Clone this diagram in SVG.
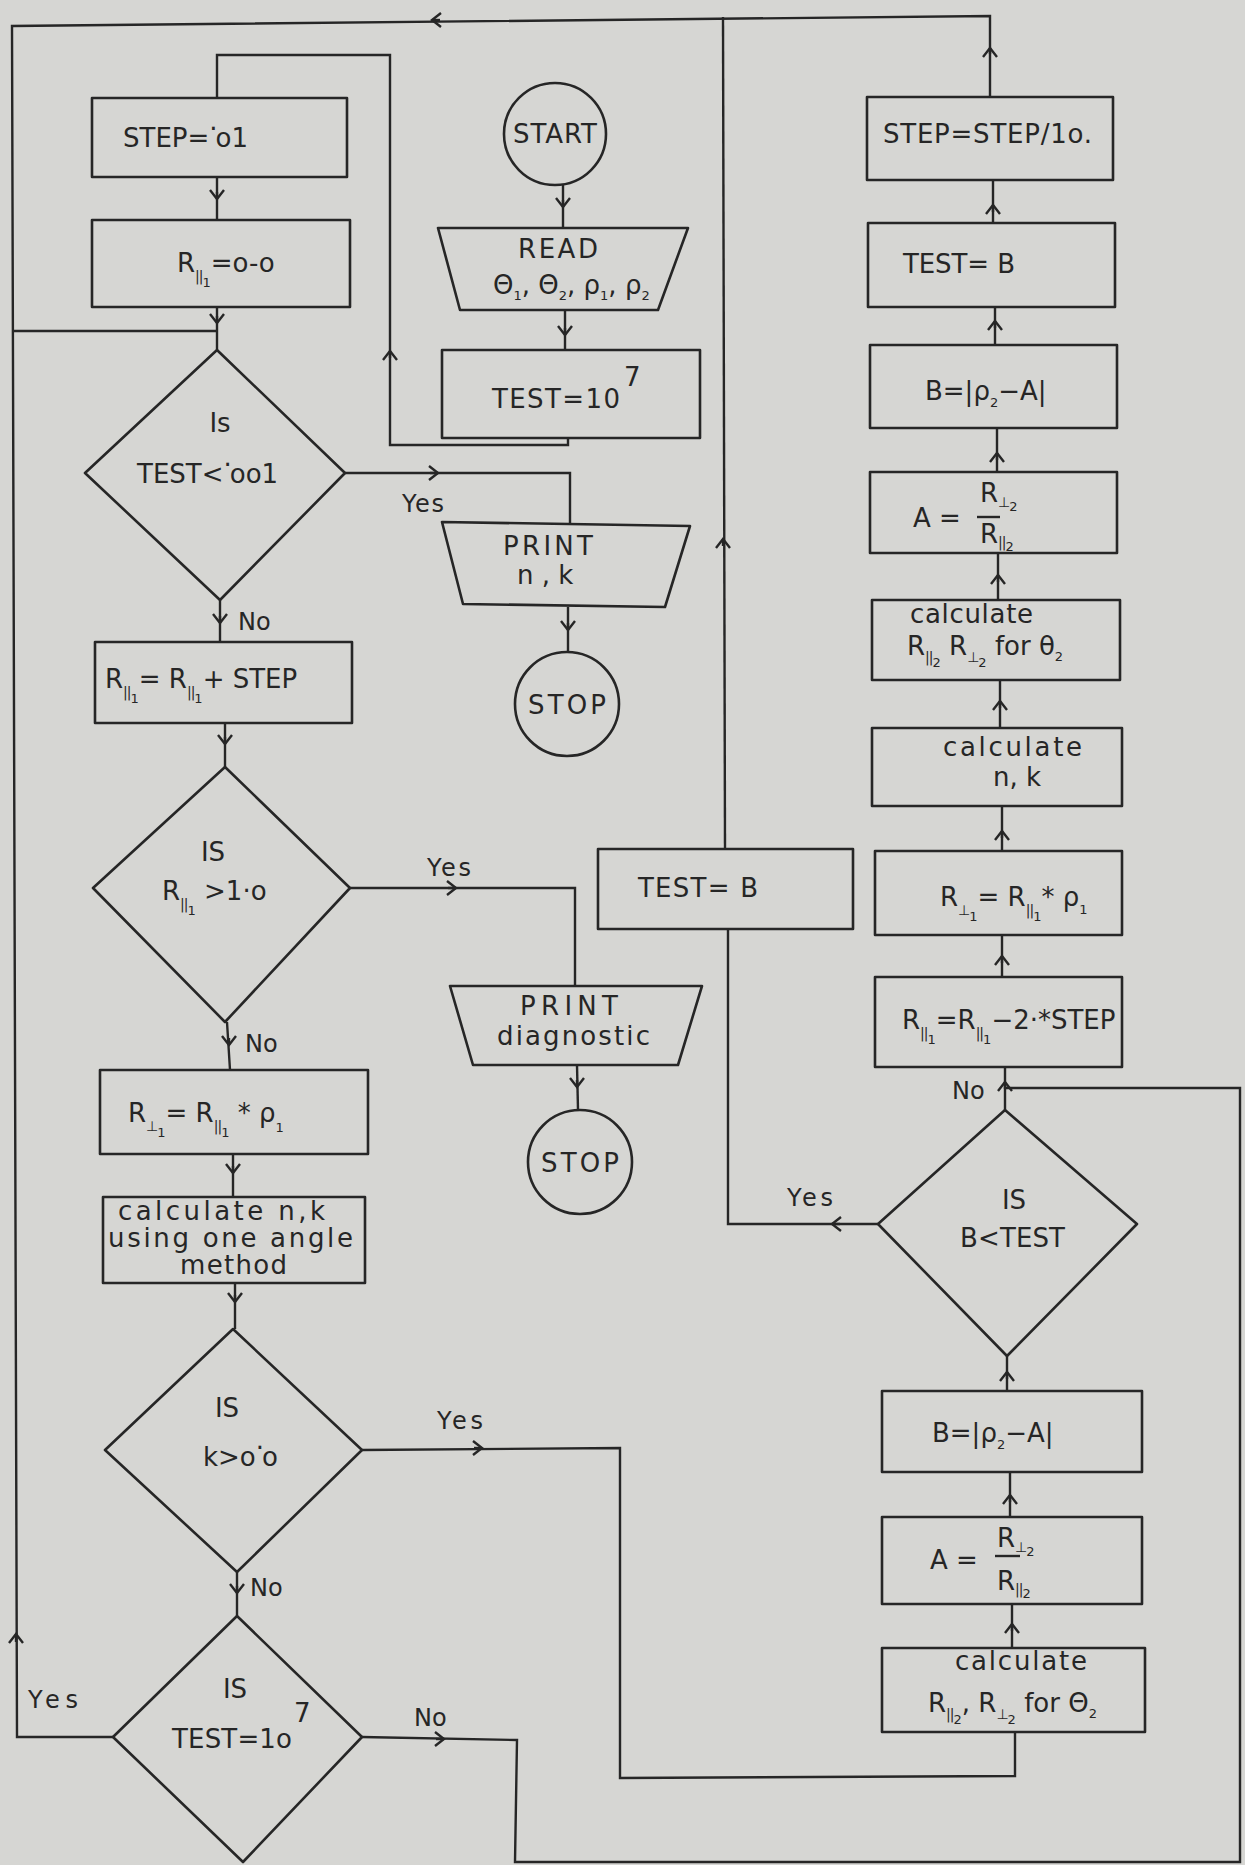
<svg xmlns="http://www.w3.org/2000/svg" width="1245" height="1865" viewBox="0 0 1245 1865">
<defs>
<style>
.n{fill:none;stroke:#262626;stroke-width:2.6;stroke-linejoin:round}
.c{fill:none;stroke:#262626;stroke-width:2.4;stroke-linejoin:miter}
text{font-family:"DejaVu Sans","Liberation Sans",sans-serif;font-size:26px;fill:#262626}
.t{text-anchor:middle}
.lb{font-size:24px}
.s1{font-size:14px;letter-spacing:-1px}
.s2{font-size:13px}
</style>
<marker id="a" markerUnits="userSpaceOnUse" markerWidth="30" markerHeight="30" refX="0" refY="0" orient="auto" overflow="visible">
<path d="M-9,-7 L0,0 L-9,7" fill="none" stroke="#262626" stroke-width="2.4"/>
</marker>
</defs>
<rect x="0" y="0" width="1245" height="1865" fill="#d6d6d3"/>

<g id="connectors">
<path class="c" d="M990,97 L990,16 L12,26 L17,1737 L113,1737"/>
<path class="c" d="M14,331 L217,331"/>
<path class="c" d="M878,1224 L728,1224 L728,929"/>
<path class="c" d="M725,849 L723,17"/>
<path class="c" d="M568,438 L568,445 L390,445 L390,55 L217,55 L217,98"/>
<path class="c" d="M217,177 L217,220"/>
<path class="c" d="M217,307 L217,350"/>
<path class="c" d="M563,185 L563,228"/>
<path class="c" d="M565,310 L565,350"/>
<path class="c" d="M345,473 L570,473 L570,523"/>
<path class="c" d="M568,607 L568,652"/>
<path class="c" d="M220,600 L220,642"/>
<path class="c" d="M225,723 L225,767"/>
<path class="c" d="M350,888 L575,888 L575,986"/>
<path class="c" d="M577,1065 L578,1110"/>
<path class="c" d="M227,1022 L230,1070"/>
<path class="c" d="M233,1154 L233,1197"/>
<path class="c" d="M235,1283 L235,1329"/>
<path class="c" d="M362,1450 L620,1448 L620,1778 L1015,1776 L1015,1732"/>
<path class="c" d="M237,1572 L237,1616"/>
<path class="c" d="M362,1737 L517,1740 L515,1862 L1240,1862 L1240,1088 L1005,1088"/>
<path class="c" d="M1005,1110 L1005,1067"/>
<path class="c" d="M1002,977 L1002,935"/>
<path class="c" d="M1002,851 L1002,806"/>
<path class="c" d="M1000,728 L1000,680"/>
<path class="c" d="M998,600 L998,553"/>
<path class="c" d="M997,472 L997,428"/>
<path class="c" d="M995,345 L995,307"/>
<path class="c" d="M993,223 L993,180"/>
<path class="c" d="M1007,1356 L1007,1391"/>
<path class="c" d="M1010,1517 L1010,1472"/>
<path class="c" d="M1012,1648 L1012,1604"/>
<g marker-end="url(#a)" class="c">
<path d="M990,54 L990,48"/>
<path d="M440,20 L432,20"/>
<path d="M16,1642 L16,1634"/>
<path d="M723,546 L723,539"/>
<path d="M840,1224 L832,1224"/>
<path d="M390,358 L390,351"/>
<path d="M217,192 L217,199"/>
<path d="M217,316 L217,323"/>
<path d="M563,200 L563,207"/>
<path d="M565,328 L565,335"/>
<path d="M430,473 L438,473"/>
<path d="M568,623 L568,630"/>
<path d="M220,616 L220,623"/>
<path d="M225,737 L225,744"/>
<path d="M448,888 L456,888"/>
<path d="M577,1080 L577,1087"/>
<path d="M229,1038 L229,1045"/>
<path d="M233,1166 L233,1173"/>
<path d="M235,1295 L235,1302"/>
<path d="M474,1448 L482,1448"/>
<path d="M237,1586 L237,1593"/>
<path d="M436,1739 L444,1739"/>
<path d="M1005,1089 L1005,1082"/>
<path d="M1002,963 L1002,956"/>
<path d="M1002,838 L1002,831"/>
<path d="M1000,708 L1000,701"/>
<path d="M998,582 L998,575"/>
<path d="M997,460 L997,453"/>
<path d="M995,328 L995,321"/>
<path d="M993,212 L993,205"/>
<path d="M1007,1379 L1007,1372"/>
<path d="M1010,1502 L1010,1495"/>
<path d="M1012,1631 L1012,1624"/>
</g>
<text class="lb" x="402" y="512" textLength="42">Yes</text>
<text class="lb" x="238" y="630">No</text>
<text class="lb" x="427" y="876" textLength="44">Yes</text>
<text class="lb" x="245" y="1052">No</text>
<text class="lb" x="437" y="1429" textLength="46">Yes</text>
<text class="lb" x="250" y="1596">No</text>
<text class="lb" x="28" y="1708" textLength="50">Yes</text>
<text class="lb" x="414" y="1726">No</text>
<text class="lb" x="787" y="1206" textLength="46">Yes</text>
<text class="lb" x="952" y="1099">No</text>
</g>

<g id="n-step01"><rect class="n" x="92" y="98" width="255" height="79"/><text x="123" y="147">STEP=<tspan dy="-9">·</tspan><tspan dy="9" dx="-2">o1</tspan></text></g>
<g id="n-r0"><rect class="n" x="92" y="220" width="258" height="87"/><text x="177" y="272">R<tspan class="s1" dy="9">||</tspan><tspan class="s2" dy="6">1</tspan><tspan dy="-15">=o-o</tspan></text></g>
<g id="n-start"><circle class="n" cx="555" cy="134" r="51"/><text class="t" x="555" y="143" textLength="84">START</text></g>
<g id="n-read"><path class="n" d="M438,228 L688,228 L658,310 L460,310 Z"/><text class="t" x="558" y="258" textLength="80">READ</text><text x="493" y="294" font-size="24">Θ<tspan class="s2" dy="6">1</tspan><tspan dy="-6">, Θ</tspan><tspan class="s2" dy="6">2</tspan><tspan dy="-6">, ρ</tspan><tspan class="s2" dy="6">1</tspan><tspan dy="-6">, ρ</tspan><tspan class="s2" dy="6">2</tspan></text></g>
<g id="n-test107"><rect class="n" x="442" y="350" width="258" height="88"/><text x="492" y="408" textLength="128">TEST=10</text><text x="624" y="386" font-size="30">7</text></g>
<g id="n-d1"><path class="n" d="M217,350 L345,473 L220,600 L85,473 Z"/><text class="t" x="220" y="432" font-size="20">Is</text><text x="137" y="483">TEST&lt;<tspan dy="-9">·</tspan><tspan dy="9" dx="-2">oo1</tspan></text></g>
<g id="n-printnk"><path class="n" d="M442,522 L690,526 L665,607 L463,604 Z"/><text x="503" y="555" textLength="90">PRINT</text><text x="517" y="584">n , k</text></g>
<g id="n-stop1"><circle class="n" cx="567" cy="704" r="52"/><text class="t" x="567" y="714" textLength="78">STOP</text></g>
<g id="n-rstep"><rect class="n" x="95" y="642" width="257" height="81"/><text x="105" y="688">R<tspan class="s1" dy="9">||</tspan><tspan class="s2" dy="6">1</tspan><tspan dy="-15">=  R</tspan><tspan class="s1" dy="9">||</tspan><tspan class="s2" dy="6">1</tspan><tspan dy="-15">+ STEP</tspan></text></g>
<g id="n-d2"><path class="n" d="M225,767 L350,888 L225,1022 L93,888 Z"/><text class="t" x="213" y="861">IS</text><text x="162" y="900">R<tspan class="s1" dy="9">||</tspan><tspan class="s2" dy="6">1</tspan><tspan dy="-15"> &gt;1·o</tspan></text></g>
<g id="n-printdiag"><path class="n" d="M450,986 L702,986 L678,1065 L473,1065 Z"/><text x="520" y="1015" textLength="98">PRINT</text><text x="497" y="1045" textLength="153">diagnostic</text></g>
<g id="n-stop2"><circle class="n" cx="580" cy="1162" r="52"/><text class="t" x="580" y="1172" textLength="78">STOP</text></g>
<g id="n-rperp1"><rect class="n" x="100" y="1070" width="268" height="84"/><text x="128" y="1122">R<tspan class="s1" dy="9">⊥</tspan><tspan class="s2" dy="6">1</tspan><tspan dy="-15">= R</tspan><tspan class="s1" dy="9">||</tspan><tspan class="s2" dy="6">1</tspan><tspan dy="-15"> * ρ</tspan><tspan class="s2" dy="10">1</tspan></text></g>
<g id="n-calc1"><rect class="n" x="103" y="1197" width="262" height="86"/><text x="118" y="1220" font-size="24" textLength="207">calculate  n,k</text><text x="108" y="1247" font-size="24" textLength="245">using one angle</text><text x="180" y="1274" font-size="24" textLength="107">method</text></g>
<g id="n-d3"><path class="n" d="M233,1329 L362,1450 L237,1572 L105,1450 Z"/><text class="t" x="227" y="1417">IS</text><text x="203" y="1466">k&gt;o<tspan dy="-9">·</tspan><tspan dy="9" dx="-2">o</tspan></text></g>
<g id="n-d4"><path class="n" d="M237,1616 L362,1737 L243,1862 L113,1737 Z"/><text class="t" x="235" y="1698">IS</text><text x="172" y="1748" textLength="120">TEST=1o</text><text x="294" y="1722" font-size="24">7</text></g>
<g id="n-steps10"><rect class="n" x="867" y="97" width="246" height="83"/><text x="883" y="143" textLength="209">STEP=STEP/1o.</text></g>
<g id="n-testb1"><rect class="n" x="868" y="223" width="247" height="84"/><text x="903" y="273" textLength="112">TEST= B</text></g>
<g id="n-b1"><rect class="n" x="870" y="345" width="247" height="83"/><text x="925" y="400">B=|ρ<tspan class="s2" dy="7">2</tspan><tspan dy="-7">−A|</tspan></text></g>
<g id="n-a1"><rect class="n" x="870" y="472" width="247" height="81"/><text x="913" y="527">A =</text><text x="980" y="502" font-size="22">R<tspan class="s1" dy="5">⊥</tspan><tspan class="s2" dy="4">2</tspan></text><path class="c" d="M977,517 L1000,517"/><text x="980" y="543" font-size="22">R<tspan class="s1" dy="4">||</tspan><tspan class="s2" dy="4">2</tspan></text></g>
<g id="n-calc2"><rect class="n" x="872" y="600" width="248" height="80"/><text x="910" y="623" font-size="24" textLength="123">calculate</text><text x="907" y="655" font-size="24">R<tspan class="s1" dy="7">||</tspan><tspan class="s2" dy="5">2</tspan><tspan dy="-12">  R</tspan><tspan class="s1" dy="7">⊥</tspan><tspan class="s2" dy="5">2</tspan><tspan dy="-12"> for  θ</tspan><tspan class="s2" dy="6">2</tspan></text></g>
<g id="n-calcnk"><rect class="n" x="872" y="728" width="250" height="78"/><text x="943" y="756" font-size="24" textLength="139">calculate</text><text x="993" y="786" font-size="24">n, k</text></g>
<g id="n-rperp2"><rect class="n" x="875" y="851" width="247" height="84"/><text x="940" y="906">R<tspan class="s1" dy="9">⊥</tspan><tspan class="s2" dy="6">1</tspan><tspan dy="-15">= R</tspan><tspan class="s1" dy="9">||</tspan><tspan class="s2" dy="6">1</tspan><tspan dy="-15">* ρ</tspan><tspan class="s2" dy="8">1</tspan></text></g>
<g id="n-rminus"><rect class="n" x="875" y="977" width="247" height="90"/><text x="902" y="1029">R<tspan class="s1" dy="9">||</tspan><tspan class="s2" dy="6">1</tspan><tspan dy="-15">=R</tspan><tspan class="s1" dy="9">||</tspan><tspan class="s2" dy="6">1</tspan><tspan dy="-15">−2·*STEP</tspan></text></g>
<g id="n-testb2"><rect class="n" x="598" y="849" width="255" height="80"/><text x="638" y="897" textLength="120">TEST= B</text></g>
<g id="n-d5"><path class="n" d="M1005,1110 L1137,1224 L1007,1356 L878,1224 Z"/><text class="t" x="1014" y="1209">IS</text><text x="960" y="1247" textLength="105">B&lt;TEST</text></g>
<g id="n-b2"><rect class="n" x="882" y="1391" width="260" height="81"/><text x="932" y="1442">B=|ρ<tspan class="s2" dy="7">2</tspan><tspan dy="-7">−A|</tspan></text></g>
<g id="n-a2"><rect class="n" x="882" y="1517" width="260" height="87"/><text x="930" y="1569">A =</text><text x="997" y="1547" font-size="22">R<tspan class="s1" dy="5">⊥</tspan><tspan class="s2" dy="4">2</tspan></text><path class="c" d="M995,1556 L1020,1556"/><text x="997" y="1590" font-size="22">R<tspan class="s1" dy="4">||</tspan><tspan class="s2" dy="4">2</tspan></text></g>
<g id="n-calc3"><rect class="n" x="882" y="1648" width="263" height="84"/><text x="955" y="1670" font-size="24" textLength="132">calculate</text><text x="928" y="1712" font-size="24">R<tspan class="s1" dy="7">||</tspan><tspan class="s2" dy="5">2</tspan><tspan dy="-12">, R</tspan><tspan class="s1" dy="7">⊥</tspan><tspan class="s2" dy="5">2</tspan><tspan dy="-12"> for Θ</tspan><tspan class="s2" dy="6">2</tspan></text></g>
</svg>
